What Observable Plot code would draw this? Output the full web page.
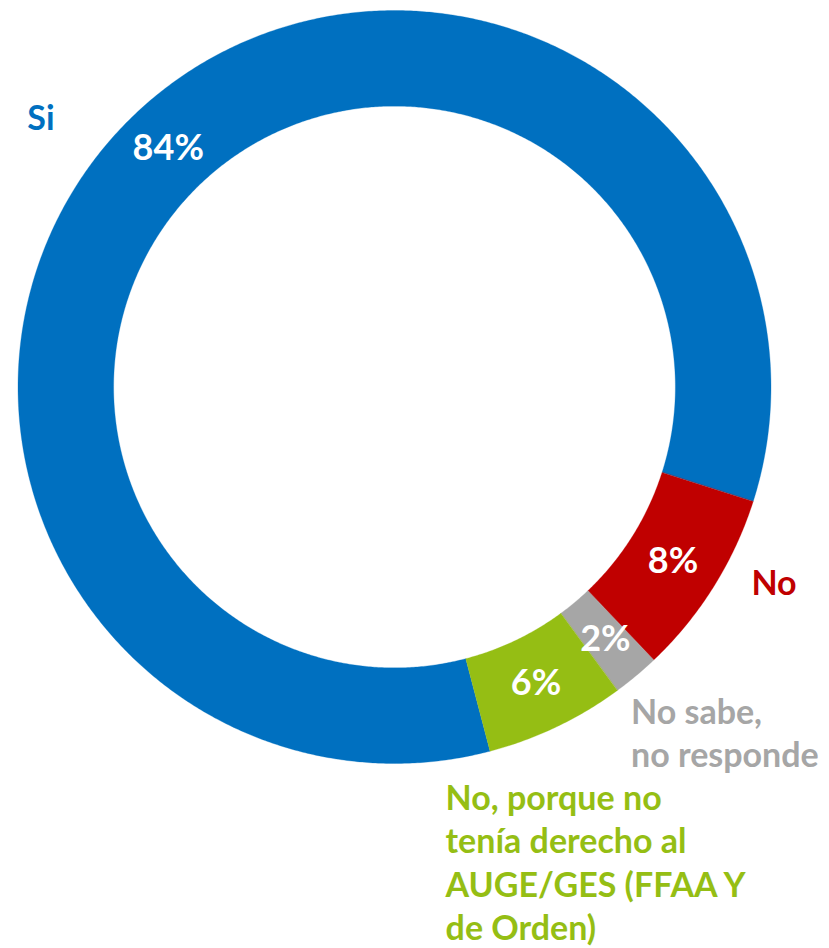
<!DOCTYPE html>
<html><head><meta charset="utf-8">
<script src="https://cdn.jsdelivr.net/npm/d3@7"></script>
<script src="https://cdn.jsdelivr.net/npm/@observablehq/plot@0.6"></script>
<style>body{margin:0;background:#fff;} #chart svg{display:block;}</style>
</head><body><div id="chart"></div>
<script>
// ---- data ----
const keys = ["si", "no", "nsnr", "noges"];
const categories = ["Si", "No", "No sabe,\nno responde", "No, porque no\ntenía derecho al\nAUGE/GES (FFAA Y\nde Orden)"];
const values = [84, 8, 2, 6];
const percentLabels = ["84%", "8%", "2%", "6%"];

// ---- style ----
const colors = ["#0070C0", "#C00000", "#A6A6A6", "#95BE14"];
const startAngle = 165.3;      // degrees, clockwise from top
const holeRatio = 0.746;
const W = 829, H = 948, CX = 394, CY = 386.5, R = 376.5;
const fontFamily = "Lato, 'Noto Sans', sans-serif";
const catFont = 34, pctFont = 36;
// label nudges (px) from the outer-rim point at each slice's mid angle
const labelNudge = [[-108, -15], [38, -23], [-5, 17], [-111, 52]];

const total = d3.sum(values);
const rad = a => a * Math.PI / 180;
let acc = 0;
const slices = values.map((v, i) => {
  const a0 = startAngle + acc / total * 360;
  acc += v;
  const a1 = startAngle + acc / total * 360;
  return {key: keys[i], i, a0, a1, mid: (a0 + a1) / 2};
});

const ring = [];
for (const s of slices) {
  const n = Math.max(4, Math.ceil((s.a1 - s.a0) / 0.4));
  for (let k = 0; k <= n; k++) {
    const a = rad(s.a0 + (s.a1 - s.a0) * k / n);
    ring.push({key: s.key, x: Math.sin(a), y: Math.cos(a)});
  }
  for (let k = n; k >= 0; k--) {
    const a = rad(s.a0 + (s.a1 - s.a0) * k / n);
    ring.push({key: s.key, x: holeRatio * Math.sin(a), y: holeRatio * Math.cos(a)});
  }
}

const rMid = (1 + holeRatio) / 2;
const pct = slices.map(s => ({key: s.key, text: percentLabels[s.i],
  x: rMid * Math.sin(rad(s.mid)), y: rMid * Math.cos(rad(s.mid))}));
const cats = slices.map(s => ({key: s.key, text: categories[s.i],
  x: Math.sin(rad(s.mid)), y: Math.cos(rad(s.mid))}));

const chart = Plot.plot({
  width: W, height: H, margin: 0,
  style: {background: "white", overflow: "visible"},
  x: {domain: [-CX / R, (W - CX) / R], axis: null},
  y: {domain: [-(H - CY) / R, CY / R], axis: null},
  color: {type: "ordinal", domain: keys, range: colors},
  marks: [
    Plot.line(ring, {x: "x", y: "y", z: "key", fill: "key", stroke: "key", strokeWidth: 0.3, curve: "linear-closed"}),
    Plot.text(pct, {x: "x", y: "y", text: "text", fill: "white", fontFamily, fontWeight: "bold",
      fontSize: pctFont, textAnchor: "middle", lineAnchor: "middle"}),
    ...cats.map((c, i) => Plot.text([c], {x: "x", y: "y", text: "text", fill: "key", fontFamily,
      fontWeight: "bold", fontSize: catFont, textAnchor: "start", lineAnchor: "top", lineHeight: 1.28,
      dx: labelNudge[i][0], dy: labelNudge[i][1]}))
  ]
});
document.getElementById("chart").appendChild(chart);
</script>
</body></html>
